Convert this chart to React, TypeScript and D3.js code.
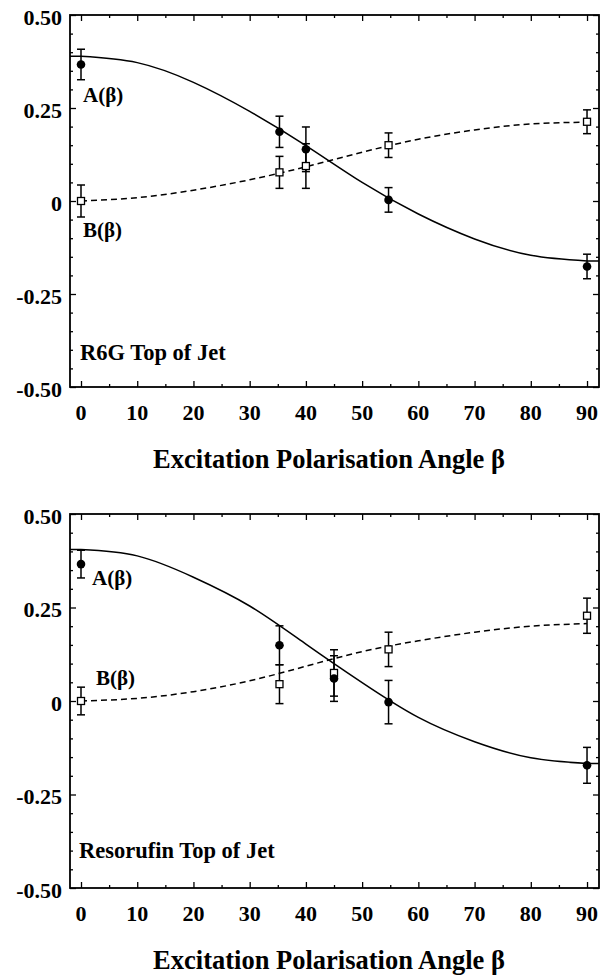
import { axisBottom, axisLeft, axisRight, axisTop, curveNatural, line, range, scaleLinear, select } from "d3";
import { useEffect, useRef } from "react";

// measured points (beta in degrees)
const r6gAngles = [0, 35.3, 40, 54.7, 90];
const r6gA = [0.367, 0.186, 0.139, 0.003, -0.176];
const r6gAErr = [0.041, 0.042, 0.06, 0.033, 0.033];
const r6gB = [0.0, 0.077, 0.094, 0.15, 0.213];
const r6gBErr = [0.043, 0.043, 0.06, 0.033, 0.032];

const resAngles = [0, 35.3, 45, 54.7, 90];
const resA = [0.366, 0.149, 0.06, -0.003, -0.172];
const resAErr = [0.037, 0.052, 0.061, 0.058, 0.048];
const resB = [0.0, 0.045, 0.075, 0.138, 0.228];
const resBErr = [0.037, 0.052, 0.062, 0.046, 0.047];

// fitted curves
const fitAngles = [0, 10, 20, 30, 40, 50, 60, 70, 80, 90];
const r6gFitA = [0.389, 0.372, 0.319, 0.241, 0.149, 0.05, -0.035, -0.102, -0.146, -0.161];
const r6gFitB = [0, 0.009, 0.029, 0.057, 0.092, 0.131, 0.166, 0.191, 0.207, 0.212];
const resFitA = [0.405, 0.388, 0.331, 0.254, 0.152, 0.049, -0.044, -0.109, -0.152, -0.167];
const resFitB = [0, 0.007, 0.025, 0.054, 0.093, 0.132, 0.161, 0.184, 0.2, 0.207];

const xTicks = range(0, 91, 10);
const xMinor = range(5, 91, 10);
const yTicks = [-0.5, -0.25, 0, 0.25, 0.5];
const yTickLabels = ["-0.50", "-0.25", "0", "0.25", "0.50"];
const yMinor = range(-0.45, 0.5, 0.05).filter(v => Math.abs(Math.round(v * 100) % 25) != 0);

const xTitle = "Excitation Polarisation Angle β";
const font = "'Liberation Serif', 'DejaVu Serif', serif";

const panels = [
    {
        top: 15, bottom: 387, angles: r6gAngles, a: r6gA, aErr: r6gAErr, b: r6gB, bErr: r6gBErr,
        fitA: r6gFitA, fitB: r6gFitB, name: "R6G Top of Jet",
        aLabel: [83, 102], bLabel: [83, 237], nameLabel: [80, 360],
    },
    {
        top: 514, bottom: 888, angles: resAngles, a: resA, aErr: resAErr, b: resB, bErr: resBErr,
        fitA: resFitA, fitB: resFitB, name: "Resorufin Top of Jet",
        aLabel: [92, 585], bLabel: [96, 685], nameLabel: [79, 858],
    },
];

export default function App() {
    const ref = useRef<SVGSVGElement>(null);

    useEffect(() => {
        const svg = select(ref.current);
        svg.selectAll("*").remove();
        const left = 70, right = 599;
        const x = scaleLinear().domain([-1.957, 92.13]).range([left, right]);

        panels.forEach(p => {
            const y = scaleLinear().domain([-0.5, 0.5]).range([p.bottom, p.top]);
            const g = svg.append("g");

            // ticks, inward on all four sides
            const ticks = (ax: any, tf: string) => {
                g.append("g").attr("transform", tf).call(ax)
                    .call((s: any) => s.select(".domain").remove())
                    .call((s: any) => s.selectAll("text").remove())
                    .selectAll("line").attr("stroke", "#000").attr("stroke-width", 1.3);
            };
            ticks(axisBottom(x).tickValues(xTicks).tickSize(-6).tickSizeOuter(0), `translate(0,${p.bottom})`);
            ticks(axisBottom(x).tickValues(xMinor).tickSize(-3).tickSizeOuter(0), `translate(0,${p.bottom})`);
            ticks(axisTop(x).tickValues(xTicks).tickSize(-6).tickSizeOuter(0), `translate(0,${p.top})`);
            ticks(axisTop(x).tickValues(xMinor).tickSize(-3).tickSizeOuter(0), `translate(0,${p.top})`);
            ticks(axisLeft(y).tickValues(yTicks).tickSize(-6).tickSizeOuter(0), `translate(${left},0)`);
            ticks(axisLeft(y).tickValues(yMinor).tickSize(-3).tickSizeOuter(0), `translate(${left},0)`);
            ticks(axisRight(y).tickValues(yTicks).tickSize(-6).tickSizeOuter(0), `translate(${right},0)`);
            ticks(axisRight(y).tickValues(yMinor).tickSize(-3).tickSizeOuter(0), `translate(${right},0)`);

            g.append("rect")
                .attr("x", left).attr("y", p.top)
                .attr("width", right - left).attr("height", p.bottom - p.top)
                .attr("fill", "none").attr("stroke", "#000").attr("stroke-width", 1.8);

            const txt = (sel: any, size: number) => sel
                .attr("font-family", font).attr("font-weight", "bold").attr("font-size", size);

            // tick labels
            txt(g.selectAll("text.xl").data(xTicks).join("text")
                .attr("class", "xl")
                .attr("x", (d: number) => x(d)).attr("y", p.bottom + 33)
                .attr("text-anchor", "middle")
                .text((d: number) => String(d)), 22);
            txt(g.selectAll("text.yl").data(yTicks).join("text")
                .attr("class", "yl")
                .attr("x", left - 8).attr("y", (d: number) => y(d) + 2).attr("dy", "0.35em")
                .attr("text-anchor", "end")
                .text((d: number, i: number) => yTickLabels[i]), 22);

            txt(g.append("text")
                .attr("x", 329).attr("y", p.bottom + 81)
                .attr("text-anchor", "middle")
                .text(xTitle), 26.5);

            // fitted curves
            const fitA: [number, number][] = fitAngles.map((a, i) => [a, p.fitA[i]]);
            const fitB: [number, number][] = fitAngles.map((a, i) => [a, p.fitB[i]]);
            const l = line<[number, number]>().x(d => x(d[0])).y(d => y(d[1])).curve(curveNatural);
            const flat = line<[number, number]>().x(d => x(d[0])).y(d => y(d[1]));
            const last = p.fitA.length - 1;
            g.append("path").attr("d", l(fitA)).attr("fill", "none").attr("stroke", "#000").attr("stroke-width", 1.5);
            g.append("path")
                .attr("d", flat([[x.domain()[0], p.fitA[0]], [fitAngles[0], p.fitA[0]]]) + flat([[fitAngles[last], p.fitA[last]], [x.domain()[1], p.fitA[last]]]))
                .attr("fill", "none").attr("stroke", "#000").attr("stroke-width", 1.5);
            g.append("path").attr("d", l(fitB)).attr("fill", "none").attr("stroke", "#000").attr("stroke-width", 1.5)
                .attr("stroke-dasharray", "6,4");

            // error bars
            const errs = (vals: number[], err: number[]) => {
                p.angles.forEach((a, i) => {
                    const cx = x(a), y0 = y(vals[i] - err[i]), y1 = y(vals[i] + err[i]);
                    g.append("line").attr("x1", cx).attr("x2", cx).attr("y1", y0).attr("y2", y1)
                        .attr("stroke", "#000").attr("stroke-width", 1.5);
                    [y0, y1].forEach(yy => g.append("line")
                        .attr("x1", cx - 4).attr("x2", cx + 4).attr("y1", yy).attr("y2", yy)
                        .attr("stroke", "#000").attr("stroke-width", 1.5));
                });
            };
            errs(p.a, p.aErr);
            errs(p.b, p.bErr);

            g.selectAll("rect.pt").data(p.angles).join("rect")
                .attr("x", d => x(d) - 3.5).attr("y", (d, i) => y(p.b[i]) - 3.5)
                .attr("width", 7).attr("height", 7)
                .attr("fill", "#fff").attr("stroke", "#000").attr("stroke-width", 1.3);
            g.selectAll("circle").data(p.angles).join("circle")
                .attr("cx", d => x(d)).attr("cy", (d, i) => y(p.a[i]))
                .attr("r", 4.3).attr("fill", "#000");

            // annotations
            const ann = (t: string, pos: number[], size: number) => txt(g.append("text")
                .attr("x", pos[0]).attr("y", pos[1])
                .text(t), size);
            ann("A(β)", p.aLabel, 21);
            ann("B(β)", p.bLabel, 21);
            ann(p.name, p.nameLabel, 22.5);
        });
    }, []);

    return (
        <svg ref={ref} width={602} height={975} viewBox="0 0 602 975"
            style={{ position: "absolute", left: 0, top: 0, background: "#fff" }}></svg>
    );
}
